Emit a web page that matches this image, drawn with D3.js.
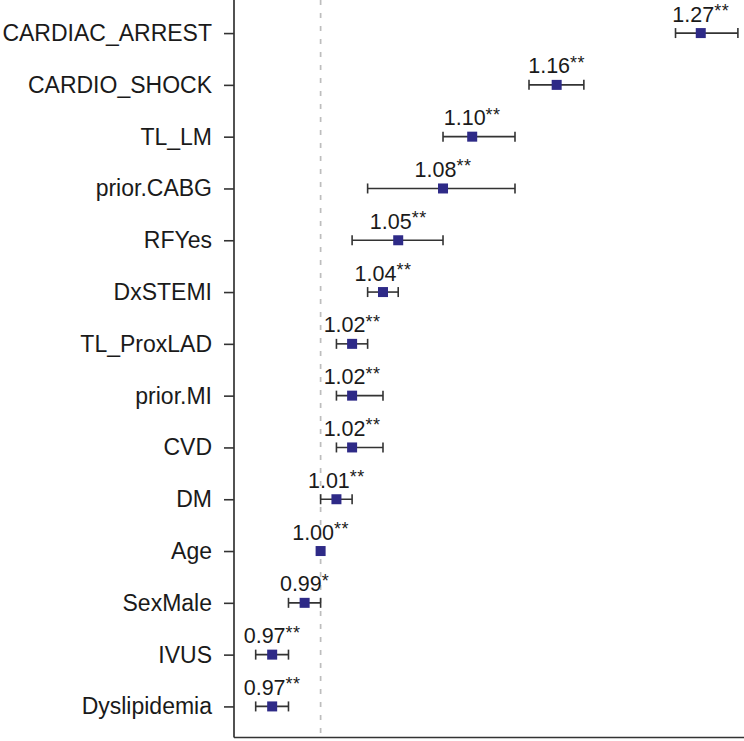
<!DOCTYPE html>
<html>
<head>
<meta charset="utf-8">
<script src="https://cdn.jsdelivr.net/npm/d3@7"></script>
<style>
  html, body { margin: 0; padding: 0; background: #fff; }
  svg { display: block; }
</style>
</head>
<body>
<svg id="chart" width="744" height="741"></svg>
<script>
// ---- data ----
const categories = ["CARDIAC_ARREST", "CARDIO_SHOCK", "TL_LM", "prior.CABG", "RFYes", "DxSTEMI",
  "TL_ProxLAD", "prior.MI", "CVD", "DM", "Age", "SexMale", "IVUS", "Dyslipidemia"];
const oddsRatio = [1.27, 1.16, 1.10, 1.08, 1.05, 1.04, 1.02, 1.02, 1.02, 1.01, 1.00, 0.99, 0.97, 0.97];
const ciLow  = [1.25, 1.14, 1.08, 1.03, 1.02, 1.03, 1.01, 1.01, 1.01, 1.00, 1.00, 0.98, 0.96, 0.96];
const ciHigh = [1.30, 1.18, 1.13, 1.13, 1.08, 1.05, 1.03, 1.04, 1.04, 1.02, 1.00, 1.00, 0.98, 0.98];
const signif = ["**", "**", "**", "**", "**", "**", "**", "**", "**", "**", "**", "*", "**", "**"];
const xDomain = [0.947, 1.305];
const refValue = 1.00;

(function () {
const rows = categories.map((c, i) => ({
  name: c, or: oddsRatio[i], lo: ciLow[i], hi: ciHigh[i], sig: signif[i]
}));

// ---- layout ----
const svg = d3.select("#chart");
const mLeft = 234, mRight = 744, mTop = 0, mBottom = 737.5;

const x = d3.scaleLog().domain(xDomain).range([mLeft, mRight]);
const y = d3.scalePoint().domain(categories).range([mTop + 2, mBottom]).padding(0.6);

const axisColor = "#333333";

// reference line
svg.append("line")
  .attr("x1", x(refValue)).attr("x2", x(refValue))
  .attr("y1", mTop).attr("y2", mBottom)
  .attr("stroke", "#bdbdbd")
  .attr("stroke-width", 1.7)
  .attr("stroke-dasharray", "5,8");

// y axis
const yAxis = svg.append("g")
  .attr("transform", `translate(${mLeft},0)`)
  .call(d3.axisLeft(y).tickSize(10).tickPadding(12).tickSizeOuter(0));
yAxis.select(".domain").remove();
yAxis.selectAll(".tick line").attr("stroke", axisColor).attr("stroke-width", 1.6);
yAxis.selectAll(".tick text")
  .attr("fill", "#1a1a1a")
  .style("font-family", "'Liberation Sans', Arial, sans-serif")
  .style("font-size", "23px");

// axis lines
svg.append("line")
  .attr("x1", mLeft).attr("x2", mLeft).attr("y1", mTop).attr("y2", mBottom)
  .attr("stroke", axisColor).attr("stroke-width", 1.7);
svg.append("line")
  .attr("x1", mLeft).attr("x2", mRight).attr("y1", mBottom).attr("y2", mBottom)
  .attr("stroke", axisColor).attr("stroke-width", 1.7);

// error bars
const g = svg.append("g");
const capH = 5;
rows.forEach(d => {
  const yy = y(d.name);
  if (d.hi > d.lo) {
    g.append("line").attr("x1", x(d.lo)).attr("x2", x(d.hi)).attr("y1", yy).attr("y2", yy)
      .attr("stroke", axisColor).attr("stroke-width", 1.6);
    [d.lo, d.hi].forEach(v => {
      g.append("line").attr("x1", x(v)).attr("x2", x(v)).attr("y1", yy - capH).attr("y2", yy + capH)
        .attr("stroke", axisColor).attr("stroke-width", 1.6);
    });
  }
});

// points
g.selectAll("rect.pt").data(rows).join("rect")
  .attr("class", "pt")
  .attr("x", d => x(d.or) - 5)
  .attr("y", d => y(d.name) - 5)
  .attr("width", 10).attr("height", 10)
  .attr("fill", "#2e2a87");

// value labels
const lab = g.selectAll("text.val").data(rows).join("text")
  .attr("class", "val")
  .attr("x", d => x(d.or))
  .attr("y", d => y(d.name) - 11.5)
  .attr("text-anchor", "middle")
  .attr("fill", "#1a1a1a")
  .style("font-family", "'Liberation Sans', Arial, sans-serif")
  .style("font-size", "21.5px");
lab.append("tspan").text(d => d.or.toFixed(2));
lab.append("tspan")
  .attr("dy", -4.5)
  .style("font-size", "18px")
  .style("letter-spacing", "0.5px")
  .text(d => d.sig);
})();
</script>
</body>
</html>
